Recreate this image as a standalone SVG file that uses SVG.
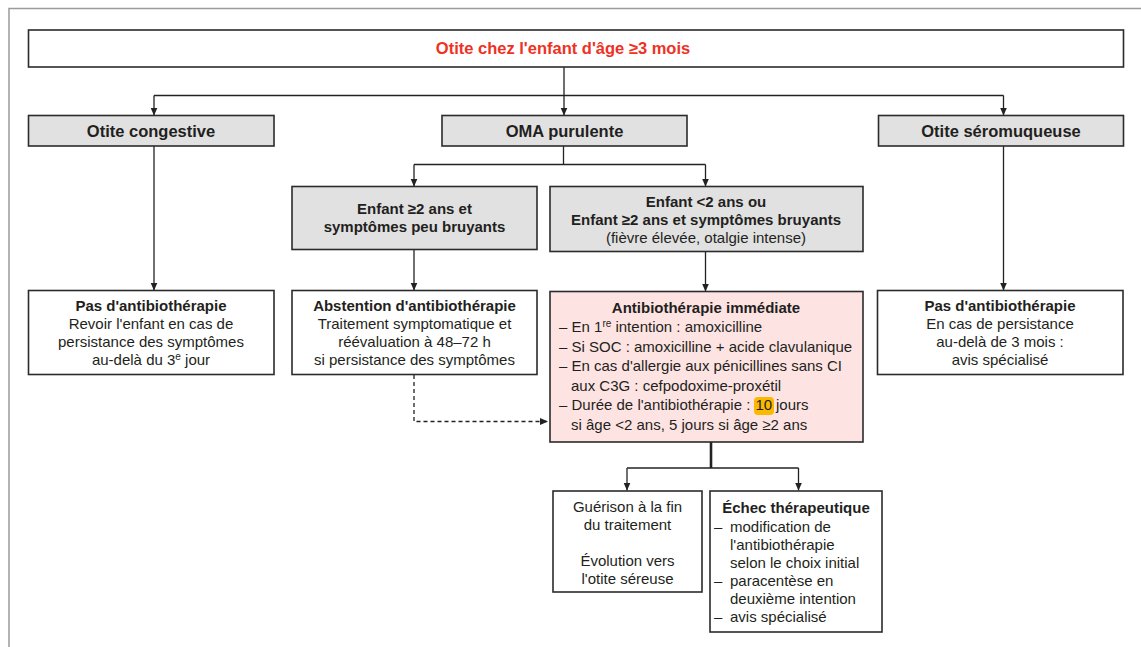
<svg xmlns="http://www.w3.org/2000/svg" width="1141" height="647" viewBox="0 0 1141 647">
<style>
text{font-family:"Liberation Sans",Arial,sans-serif;font-size:15px;fill:#231f20}
.b{font-weight:bold}
.h{font-size:16.5px;font-weight:bold}
.c{text-anchor:middle}
.box{fill:#fff;stroke:#2b2b2b;stroke-width:1.6}
.g{fill:#e1e1e1;stroke:#2b2b2b;stroke-width:1.6}
.p{fill:#fde4e3;stroke:#2b2b2b;stroke-width:1.6}
.ln{fill:none;stroke:#222;stroke-width:1.3}
.sup{font-size:10px}
</style>
<defs>
<marker id="ar" markerUnits="userSpaceOnUse" markerWidth="9" markerHeight="9" refX="8" refY="4" orient="auto">
<path d="M0,0.5 L8,4 L0,7.5 z" fill="#222"/>
</marker>
</defs>
<rect width="1141" height="647" fill="#fff"/>
<path d="M9,647 V8.5 H1141" fill="none" stroke="#9a9a9a" stroke-width="1.5"/>

<g id="connectors">
<path class="ln" d="M564,67 V95.5 M154,95.5 H1003.5"/>
<path class="ln" d="M154,95.5 V115.5" marker-end="url(#ar)"/>
<path class="ln" d="M564,95.5 V115.5" marker-end="url(#ar)"/>
<path class="ln" d="M1003.5,95.5 V115.5" marker-end="url(#ar)"/>
<path class="ln" d="M563.5,146 V164.5 M414,164.5 H705.5"/>
<path class="ln" d="M414,164.5 V186.5" marker-end="url(#ar)"/>
<path class="ln" d="M705.5,164.5 V186.5" marker-end="url(#ar)"/>
<path class="ln" d="M154,146 V290.5" marker-end="url(#ar)"/>
<path class="ln" d="M414,249.5 V290.5" marker-end="url(#ar)"/>
<path class="ln" d="M705.5,251.5 V291.5" marker-end="url(#ar)"/>
<path class="ln" d="M1003.5,146 V290.5" marker-end="url(#ar)"/>
<path class="ln" d="M414,375 V421.5 H548" stroke-dasharray="4,3" marker-end="url(#ar)"/>
<path d="M711,442 V468" fill="none" stroke="#222" stroke-width="2.6"/>
<path class="ln" d="M627,468 H798.5"/>
<path class="ln" d="M627,468 V490.5" marker-end="url(#ar)"/>
<path class="ln" d="M798.5,468 V490.5" marker-end="url(#ar)"/>
</g>

<g id="title">
<rect class="box" x="28.5" y="30" width="1095" height="37"/>
<text class="h c" x="563" y="54" style="fill:#ee3124">Otite chez l'enfant d'âge ≥3 mois</text>
</g>

<g id="congestive">
<rect class="g" x="28.5" y="115.5" width="245.5" height="30.5"/>
<text class="h c" x="151" y="137">Otite congestive</text>
</g>

<g id="oma">
<rect class="g" x="442" y="115.5" width="245" height="30.5"/>
<text class="h c" x="564.5" y="137">OMA purulente</text>
</g>

<g id="seromuqueuse">
<rect class="g" x="878.5" y="115.5" width="245" height="30.5"/>
<text class="h c" x="1001" y="137">Otite séromuqueuse</text>
</g>

<g id="enfant-ge2">
<rect class="g" x="292" y="186.5" width="245" height="63"/>
<text class="b c" x="414.5" y="213.5">Enfant ≥2 ans et</text>
<text class="b c" x="414.5" y="232">symptômes peu bruyants</text>
</g>

<g id="enfant-lt2">
<rect class="g" x="550" y="186.5" width="313" height="65"/>
<text class="b c" x="706" y="206.5">Enfant &lt;2 ans ou</text>
<text class="b c" x="706" y="224.5">Enfant ≥2 ans et symptômes bruyants</text>
<text class="c" x="706" y="242.5">(fièvre élevée, otalgie intense)</text>
</g>

<g id="pas-atb-left">
<rect class="box" x="28.5" y="290.5" width="245.5" height="84"/>
<text class="b c" x="151" y="311">Pas d'antibiothérapie</text>
<text class="c" x="151" y="329">Revoir l'enfant en cas de</text>
<text class="c" x="151" y="347">persistance des symptômes</text>
<text class="c" x="151" y="365">au-delà du 3<tspan class="sup" dy="-5">e</tspan><tspan dy="5"> jour</tspan></text>
</g>

<g id="abstention">
<rect class="box" x="292" y="290.5" width="245" height="84"/>
<text class="b c" x="414.5" y="311">Abstention d'antibiothérapie</text>
<text class="c" x="414.5" y="329">Traitement symptomatique et</text>
<text class="c" x="414.5" y="347">réévaluation à 48–72 h</text>
<text class="c" x="414.5" y="365">si persistance des symptômes</text>
</g>

<g id="atb-immediate">
<rect class="p" x="550" y="291.5" width="313" height="150.5"/>
<text class="b c" x="706" y="313">Antibiothérapie immédiate</text>
<text x="559" y="332">– En 1<tspan class="sup" dy="-5">re</tspan><tspan dy="5"> intention : amoxicilline</tspan></text>
<text x="559" y="351.5">– Si SOC : amoxicilline + acide clavulanique</text>
<text x="559" y="371">– En cas d'allergie aux pénicillines sans CI</text>
<text x="571" y="390.5">aux C3G : cefpodoxime-proxétil</text>
<rect x="754" y="397" width="20" height="18" rx="4" fill="#fbb800"/>
<text x="559" y="410">– Durée de l'antibiothérapie : <tspan x="755.5">10</tspan><tspan x="776">jours</tspan></text>
<text x="571" y="429.5">si âge &lt;2 ans, 5 jours si âge ≥2 ans</text>
</g>

<g id="pas-atb-right">
<rect class="box" x="877.5" y="290.5" width="245.5" height="84"/>
<text class="b c" x="1000" y="311">Pas d'antibiothérapie</text>
<text class="c" x="1000" y="329">En cas de persistance</text>
<text class="c" x="1000" y="347">au-delà de 3 mois :</text>
<text class="c" x="1000" y="365">avis spécialisé</text>
</g>

<g id="guerison">
<rect class="box" x="553" y="491" width="149" height="101"/>
<text class="c" x="627.5" y="512">Guérison à la fin</text>
<text class="c" x="627.5" y="530">du traitement</text>
<text class="c" x="627.5" y="566">Évolution vers</text>
<text class="c" x="627.5" y="584">l'otite séreuse</text>
</g>

<g id="echec">
<rect class="box" x="710" y="491" width="172" height="141"/>
<text class="b c" x="796" y="513">Échec thérapeutique</text>
<text x="714" y="532">–<tspan x="730">modification de</tspan></text>
<text x="730" y="550">l'antibiothérapie</text>
<text x="730" y="568">selon le choix initial</text>
<text x="714" y="586">–<tspan x="730">paracentèse en</tspan></text>
<text x="730" y="604">deuxième intention</text>
<text x="714" y="622">–<tspan x="730">avis spécialisé</tspan></text>
</g>
</svg>
